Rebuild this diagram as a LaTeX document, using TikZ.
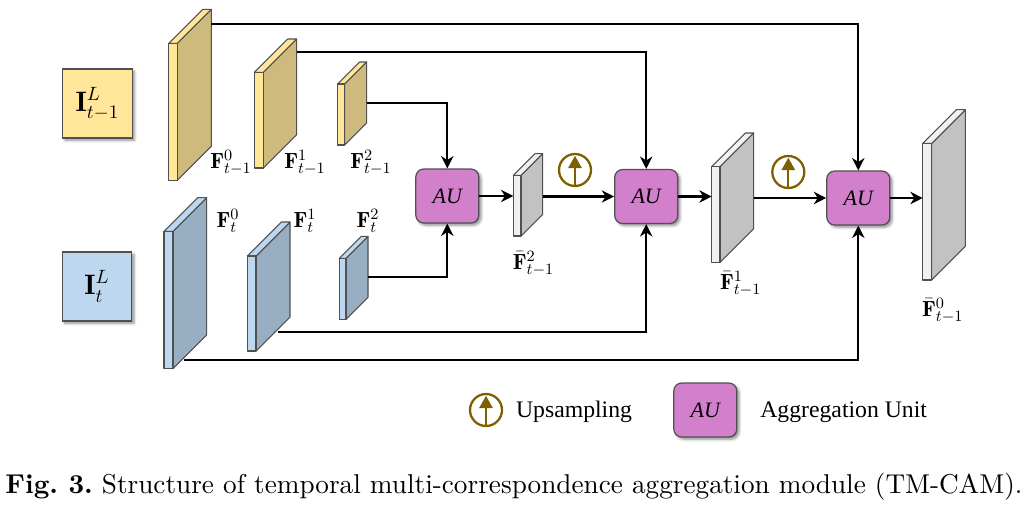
\documentclass[tikz,border=0pt]{standalone}
\usepackage{fontspec}
\newfontfamily\timesfont{Liberation Serif}
\newfontfamily\capfont{lmroman10}[Extension=.otf, UprightFont=*-regular, BoldFont=*-bold]
\usetikzlibrary{arrows.meta,shadows.blur}

\definecolor{prevfront}{RGB}{255,230,153}
\definecolor{prevside}{RGB}{205,186,124}
\definecolor{curfront}{RGB}{189,215,238}
\definecolor{curside}{RGB}{152,174,194}
\definecolor{outfront}{RGB}{240,240,240}
\definecolor{outside}{RGB}{194,194,194}
\definecolor{aucol}{RGB}{211,128,204}
\definecolor{upcol}{RGB}{127,96,0}
\definecolor{edgegray}{RGB}{80,80,80}

\tikzset{
  slabline/.style={draw=edgegray, line width=0.6pt, line join=round},
  inbox/.style={draw=edgegray, line width=0.7pt, minimum width=1.39cm, minimum height=1.38cm,
    inner sep=0pt, font=\fontsize{16}{18}\selectfont,
    blur shadow={shadow xshift=1.3pt, shadow yshift=-1.3pt, shadow blur radius=1.5pt, shadow opacity=45}},
  aubox/.style={draw=edgegray, line width=0.7pt, fill=aucol, rounded corners=4.5pt,
    minimum width=1.26cm, minimum height=1.08cm, inner sep=0pt,
    font=\timesfont\itshape\fontsize{12.5}{14}\selectfont,
    blur shadow={shadow xshift=1.3pt, shadow yshift=-1.3pt, shadow blur radius=1.5pt, shadow opacity=45}},
  upsample/.style={circle, draw=upcol, line width=1.3pt, minimum size=0.64cm, inner sep=0pt,
    path picture={\draw[upcol, line width=1.3pt, -{Triangle[length=7pt, width=7.5pt]}]
      (path picture bounding box.south) -- ([yshift=-1pt]path picture bounding box.north);}},
  flabel/.style={inner sep=0pt, font=\fontsize{12.5}{14}\selectfont},
  conn/.style={line width=1.3pt, -{Stealth[length=7pt, width=7pt, inset=2.2pt]}},
  link/.style={line width=1.3pt}
}

% #1 name, #2 x, #3 top, #4 bottom, #5 width, #6 depth, #7 front, #8 side
\newcommand{\fmap}[8]{%
  \filldraw[slabline, fill=#8] (#2+#5,#3) -- ++(#6,-#6) -- (#2+#5+#6,#4-#6) -- (#2+#5,#4) -- cycle;
  \filldraw[slabline, fill=#7] (#2,#3) -- ++(#6,-#6) -- ++(#5,0) -- (#2+#5,#3) -- cycle;
  \filldraw[slabline, fill=#7] (#2,#3) rectangle (#2+#5,#4);
  \coordinate (#1) at (#2,#3);
}

\begin{document}
\begin{tikzpicture}[x=0.02cm, y=-0.02cm]
  \useasboundingbox (0,0) rectangle (1024,505);

  % inputs
  \node[inbox, fill=prevfront] (Iprev) at (97.5,103.5) {$\mathbf{I}^{L}_{t-1}$};
  \node[inbox, fill=curfront] (Icur) at (97,286.5) {$\mathbf{I}^{L}_{t}$};

  % aggregation units
  \node[aubox] (AU1) at (447.3,196) {AU};
  \node[aubox] (AU2) at (646.2,196.5) {AU};
  \node[aubox] (AU3) at (858.3,198) {AU};

  % feature maps
  \fmap{P0}{168.7}{43.3}{180.3}{8.6}{34}{prevfront}{prevside}
  \fmap{P1}{254.3}{72.3}{168}{9}{33.3}{prevfront}{prevside}
  \fmap{P2}{337.7}{84}{145}{7}{22}{prevfront}{prevside}
  \fmap{C0}{164}{231.3}{368.7}{9}{33.7}{curfront}{curside}
  \fmap{C1}{247.3}{256}{351}{8.7}{34}{curfront}{curside}
  \fmap{C2}{339.3}{258.3}{319.3}{6.7}{22}{curfront}{curside}
  \fmap{B2}{513.3}{175.3}{236}{7.7}{21.7}{outfront}{outside}
  \fmap{B1}{711.7}{166.7}{262.3}{8.3}{33.7}{outfront}{outside}
  \fmap{B0}{922.7}{143.3}{280}{9}{33.7}{outfront}{outside}

  % connector ends on the maps
  \coordinate (p0o) at (211.3,24);
  \coordinate (p1o) at (296.6,51.7);
  \coordinate (p2o) at (366.7,103.3);
  \coordinate (c0o) at (184.3,360);
  \coordinate (c1o) at (278.3,332.3);
  \coordinate (c2o) at (368,277.3);
  \coordinate (b2i) at (513.3,196);
  \coordinate (b2o) at (542.7,196.5);
  \coordinate (b1i) at (711.7,196.5);
  \coordinate (b1o) at (753.7,198);
  \coordinate (b0i) at (922.7,198);

  \draw[conn] (p0o) -| (AU3.north);
  \draw[conn] (p1o) -| (AU2.north);
  \draw[conn] (p2o) -| (AU1.north);
  \draw[conn] (c2o) -| (AU1.south);
  \draw[conn] (c1o) -| (AU2.south);
  \draw[conn] (c0o) -| (AU3.south);

  \draw[conn] (AU1.east) -- (b2i);
  \draw[conn] (b2o) -- (AU2.west);
  \draw[conn] (AU2.east) -- (b1i);
  \draw[conn] (b1o) -- (AU3.west);
  \draw[conn] (AU3.east) -- (b0i);

  % upsampling
  \node[upsample] (up1) at (575,170) {};
  \node[upsample] (up2) at (788.3,172) {};

  % labels
  \node[flabel] (lp0) at (231,163) {$\mathbf{F}^{0}_{t-1}$};
  \node[flabel] (lp1) at (305,163) {$\mathbf{F}^{1}_{t-1}$};
  \node[flabel] (lp2) at (371,163) {$\mathbf{F}^{2}_{t-1}$};
  \node[flabel] (lc0) at (228,221) {$\mathbf{F}^{0}_{t}$};
  \node[flabel] (lc1) at (305,221) {$\mathbf{F}^{1}_{t}$};
  \node[flabel] (lc2) at (368,221) {$\mathbf{F}^{2}_{t}$};
  \node[flabel] (lb2) at (533.5,264) {$\bar{\mathbf{F}}^{2}_{t-1}$};
  \node[flabel] (lb1) at (740.7,284) {$\bar{\mathbf{F}}^{1}_{t-1}$};
  \node[flabel] (lb0) at (942.8,311) {$\bar{\mathbf{F}}^{0}_{t-1}$};

  % legend
  \node[upsample] (legup) at (486,410) {};
  \node[anchor=base west, inner sep=0pt, font=\timesfont\fontsize{13.5}{15}\selectfont] (legupt) at (515.7,417.7) {Upsampling};
  \node[aubox] (legau) at (705.3,410) {AU};
  \node[anchor=base west, inner sep=0pt, font=\timesfont\fontsize{13.5}{15}\selectfont] (legaut) at (760,417.7) {Aggregation Unit};

  % caption
  \node[anchor=base west, inner sep=0pt, font=\capfont\fontsize{15.5}{18}\selectfont] (caption) at (5,493.3)
    {\frenchspacing\textbf{Fig. 3.} Structure of temporal multi-correspondence aggregation module (TM-CAM).};
\end{tikzpicture}
\end{document}
